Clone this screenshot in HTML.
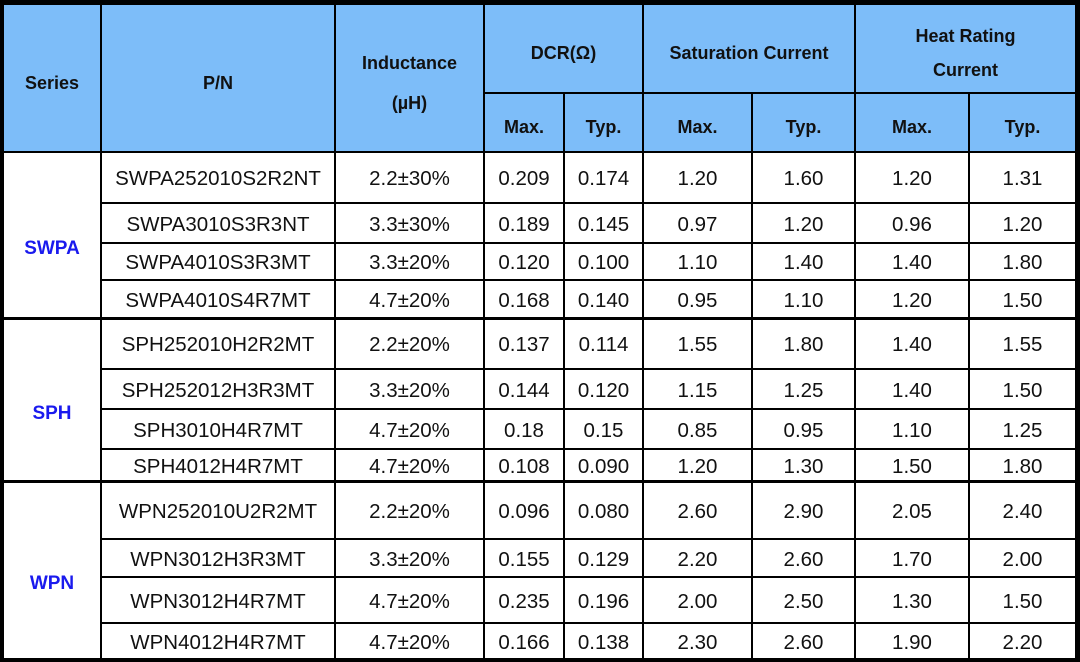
<!DOCTYPE html>
<html><head><meta charset="utf-8"><style>
body{margin:0;width:1080px;height:662px;background:#fff;position:relative;overflow:hidden;font-family:"Liberation Sans",sans-serif}
.v{position:absolute;background:#000}
.c{position:absolute;display:flex;align-items:center;justify-content:center;text-align:center;color:#111;font-size:20.5px;padding-top:3px;box-sizing:border-box}
.b{font-weight:bold;font-size:18px;color:#111;line-height:34px;padding-top:8px}
.s{font-weight:bold;color:#1a1aee;font-size:19px;padding-top:28px}
</style></head><body>
<div style="position:absolute;left:0;top:0;width:1078px;height:152px;background:#7dbdf9"></div>
<div id="t"></div>
<script>
const xs=[3,101,335,484,564,643,752,855,969,1076];
const ys=[152,203,243,280,318,369,409,449,481,539,577,623,659];
let h='';
function ln(x,y,w,hh){h+=`<div class="v" style="left:${x}px;top:${y}px;width:${w}px;height:${hh}px"></div>`}
function cell(x1,x2,y1,y2,t,cls){h+=`<div class="c ${cls||''}" style="left:${x1}px;width:${x2-x1}px;top:${y1}px;height:${y2-y1}px">${t}</div>`}
cell(3,101,5,152,'Series','b');cell(101,335,5,152,'P/N','b');
cell(335,484,5,152,'<span style="line-height:40px">Inductance<br>(µH)</span>','b');
cell(484,643,5,93,'DCR(Ω)','b');cell(643,855,5,93,'Saturation Current','b');cell(855,1076,5,93,'Heat Rating<br>Current','b');
const sub=['Max.','Typ.','Max.','Typ.','Max.','Typ.'];
for(let i=0;i<6;i++)cell(xs[i+3],xs[i+4],93,152,sub[i],'b');
const rows=[
['SWPA252010S2R2NT','2.2±30%','0.209','0.174','1.20','1.60','1.20','1.31'],
['SWPA3010S3R3NT','3.3±30%','0.189','0.145','0.97','1.20','0.96','1.20'],
['SWPA4010S3R3MT','3.3±20%','0.120','0.100','1.10','1.40','1.40','1.80'],
['SWPA4010S4R7MT','4.7±20%','0.168','0.140','0.95','1.10','1.20','1.50'],
['SPH252010H2R2MT','2.2±20%','0.137','0.114','1.55','1.80','1.40','1.55'],
['SPH252012H3R3MT','3.3±20%','0.144','0.120','1.15','1.25','1.40','1.50'],
['SPH3010H4R7MT','4.7±20%','0.18','0.15','0.85','0.95','1.10','1.25'],
['SPH4012H4R7MT','4.7±20%','0.108','0.090','1.20','1.30','1.50','1.80'],
['WPN252010U2R2MT','2.2±20%','0.096','0.080','2.60','2.90','2.05','2.40'],
['WPN3012H3R3MT','3.3±20%','0.155','0.129','2.20','2.60','1.70','2.00'],
['WPN3012H4R7MT','4.7±20%','0.235','0.196','2.00','2.50','1.30','1.50'],
['WPN4012H4R7MT','4.7±20%','0.166','0.138','2.30','2.60','1.90','2.20']];
rows.forEach((r,i)=>{for(let j=0;j<8;j++)cell(xs[j+1],xs[j+2],ys[i],ys[i+1],r[j]);});
cell(3,101,152,318,'SWPA','s');cell(3,101,318,481,'SPH','s');cell(3,101,481,659,'WPN','s');
ln(0,0,1080,5);ln(0,658,1080,4);ln(0,0,4,662);ln(1075,0,5,662);
ln(0,151,1080,2);ln(484,92,592,2);
ys.slice(1,-1).forEach(y=>{const th=(y==318||y==481)?3:2;ln(101,y-1,975,th);});
ln(0,317,101,3);ln(0,480,101,3);
ln(100,0,2,662);ln(334,0,2,662);ln(483,0,2,662);ln(642,0,2,662);ln(854,0,2,662);
ln(563,92,2,570);ln(751,92,2,570);ln(968,92,2,570);
document.getElementById('t').innerHTML=h;
</script>
</body></html>
